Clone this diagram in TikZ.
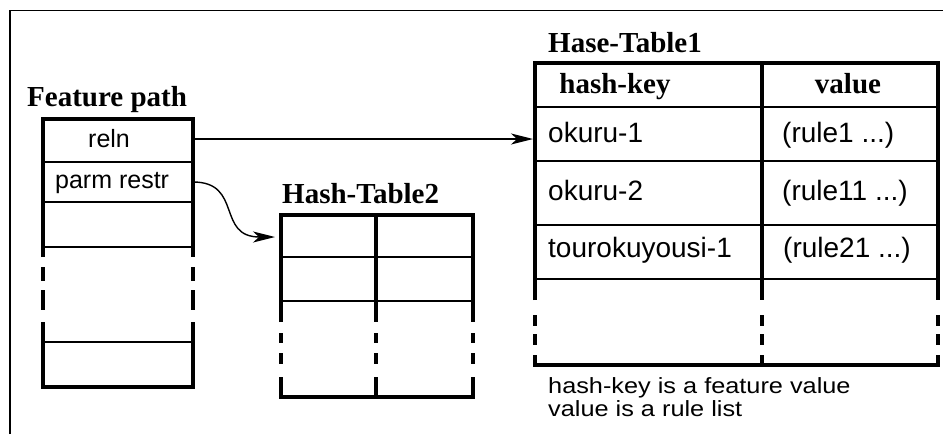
\documentclass[tikz,border=0pt]{standalone}
\usepackage{fontspec}
\setmainfont{Liberation Serif}
\setsansfont{Liberation Sans}
\newfontfamily\notefont[FakeStretch=1.15]{Liberation Sans}
\usetikzlibrary{arrows.meta}
\tikzset{
  titletxt/.style={font=\fontsize{29}{29}\selectfont\bfseries, anchor=base west, inner sep=0pt},
  headtxt/.style={font=\fontsize{29}{29}\selectfont\bfseries, anchor=base, inner sep=0pt},
  celltxt/.style={font=\sffamily\fontsize{28}{28}\selectfont, anchor=base west, inner sep=0pt},
  fptxt/.style={font=\sffamily\fontsize{25}{25}\selectfont, anchor=base west, inner sep=0pt},
  notetxt/.style={font=\notefont\fontsize{22}{22}\selectfont, anchor=base west, inner sep=0pt},
  cellbox/.style={inner sep=0pt, outer sep=0pt},
  thickline/.style={line width=3.2pt, line join=miter},
  thinline/.style={line width=1.7pt},
  frameline/.style={line width=1.5pt},
  arrowline/.style={line width=1.4pt, -{Stealth[length=22pt,width=11pt,inset=6pt]}},
}
\begin{document}
\begin{tikzpicture}[x=1pt,y=-1pt]
\useasboundingbox (0,0) rectangle (943,434);
% outer frame
\draw[frameline] (10,434) -- (10,10.5) -- (943,10.5);

% ---------------- Feature path table ----------------
\node[titletxt] (fptitle) at (27,106) {Feature path};
\draw[thickline] (43,257) -- (43,119) -- (193,119) -- (193,257);
\draw[thickline] (43,322) -- (43,387) -- (193,387) -- (193,322);
\foreach \x in {43,193}{
  \draw[thickline] (\x,267) -- (\x,281);
  \draw[thickline] (\x,290) -- (\x,310);
}
\foreach \y in {162,202,247,342}{
  \draw[thinline] (43,\y) -- (193,\y);
}
\node[cellbox, minimum width=150pt, minimum height=40pt] (relncell) at (118,139) {};
\node[cellbox, minimum width=150pt, minimum height=40pt] (parmcell) at (118,182) {};
\node[fptxt] (relntxt) at (88,147) {reln};
\node[fptxt] (parmtxt) at (55,188) {parm restr};

% ---------------- Hash-Table2 ----------------
\node[titletxt] (httitle2) at (282,203) {Hash-Table2};
\draw[thickline] (281,322) -- (281,215) -- (473,215) -- (473,322);
\draw[thickline] (376,215) -- (376,322);
\draw[thickline] (281,377) -- (281,397) -- (473,397) -- (473,377);
\draw[thickline] (376,377) -- (376,397);
\foreach \x in {281,376,473}{
  \draw[thickline] (\x,333) -- (\x,343);
  \draw[thickline] (\x,353) -- (\x,364);
}
\foreach \y in {257,301}{
  \draw[thinline] (281,\y) -- (473,\y);
}
\node[cellbox, minimum width=95pt, minimum height=42pt] (ht2row1) at (328.5,237) {};

% ---------------- Hase-Table1 ----------------
\node[titletxt] (httitle1) at (548,52) {Hase-Table1};
\draw[thickline] (535,300) -- (535,63) -- (938,63) -- (938,300);
\draw[thickline] (762,63) -- (762,300);
\draw[thickline] (535,355) -- (535,365) -- (938,365) -- (938,355);
\draw[thickline] (762,355) -- (762,365);
\foreach \x in {535,762,938}{
  \draw[thickline] (\x,315) -- (\x,326);
  \draw[thickline] (\x,334) -- (\x,345);
}
\foreach \y in {107,161,225,279}{
  \draw[thinline] (535,\y) -- (938,\y);
}
\node[headtxt] (hkhead) at (615,93) {hash-key};
\node[headtxt] (valhead) at (848,93) {value};
\node[cellbox, minimum width=227pt, minimum height=54pt] (okuru1cell) at (648.5,134) {};
\node[celltxt] (okuru1) at (548,142) {okuru-1};
\node[celltxt] (okuru2) at (548,200) {okuru-2};
\node[celltxt] (touro) at (548,257) {tourokuyousi-1};
\node[celltxt] (rule1) at (782,142) {(rule1 ...)};
\node[celltxt] (rule11) at (782,200) {(rule11 ...)};
\node[celltxt] (rule21) at (783,257) {(rule21 ...)};
\node[notetxt] (note1) at (548,393) {hash-key is a feature value};
\node[notetxt] (note2) at (548,416) {value is a rule list};

% ---------------- connectors ----------------
\draw[arrowline, shorten >=2pt] (relncell.east) -- (okuru1cell.west |- relncell.east);
\draw[arrowline, shorten >=6pt] (parmcell.east) .. controls +(50,0) and +(-65,0) .. (ht2row1.west);
\end{tikzpicture}
\end{document}
